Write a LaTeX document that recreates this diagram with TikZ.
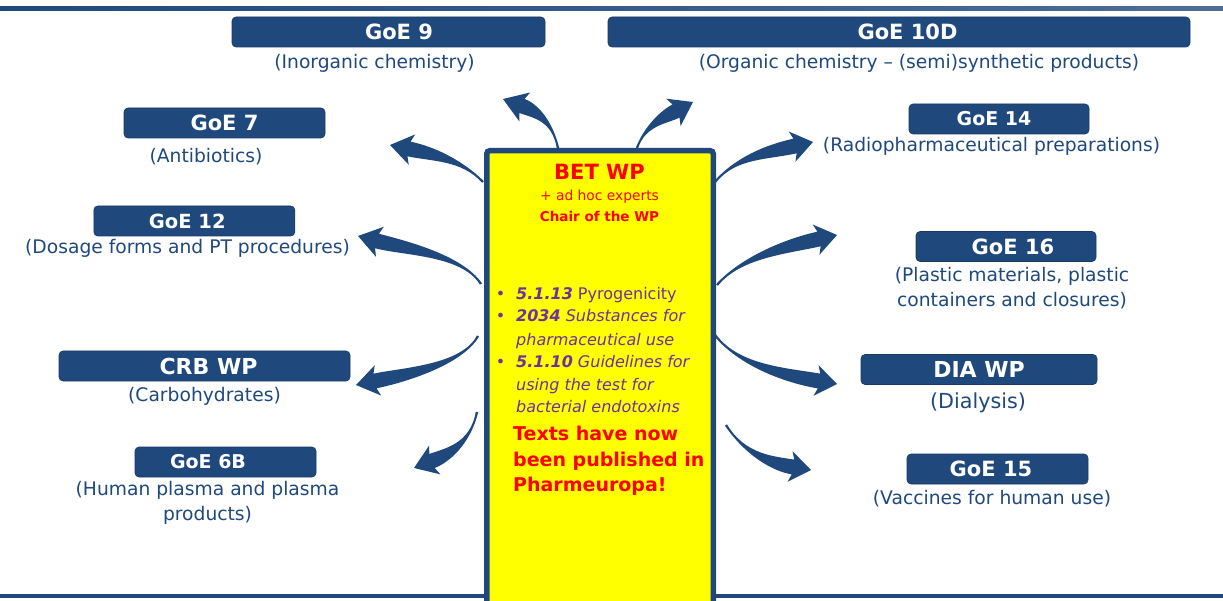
\documentclass[tikz,border=0pt]{standalone}
\usepackage{fontspec}
\setmainfont{DejaVu Sans}
\usetikzlibrary{calc}

\definecolor{navy}{RGB}{31,73,125}
\definecolor{wpred}{RGB}{255,0,0}
\definecolor{wppurple}{RGB}{112,48,160}
\definecolor{wpyellow}{RGB}{255,255,0}

% Curved block arrow that widens from a thin tail to a swept-back head.
% #1 tail, #2 tail control, #3 end of shaft, #4 tip, #5 name prefix, #6 pull behind the head
\newcommand\fatarrow[6]{%
  \coordinate (#5-b) at (#3);
  \coordinate (#5-t) at (#4);
  \coordinate (#5-c) at ($(#5-b)!-#6!(#5-t)$);
  \coordinate (#5-k) at ($(#5-b)!-3pt!(#5-t)$);
  \fill[navy] ($(#1)!1.2pt!90:(#2)$) .. controls (#2) and ($(#5-c)!7.5pt!90:(#5-t)$) .. ($(#5-b)!7.5pt!90:(#5-t)$)
     -- ($(#5-k)!15.5pt!90:(#5-t)$) -- (#5-t) -- ($(#5-k)!15.5pt!-90:(#5-t)$)
     -- ($(#5-b)!7.5pt!-90:(#5-t)$) .. controls ($(#5-c)!7.5pt!-90:(#5-t)$) and (#2) .. ($(#1)!1.2pt!-90:(#2)$) -- cycle;
}
\newcommand\bitem{\llap{•\hspace{11pt}}}

\begin{document}
\begin{tikzpicture}[x=1pt,y=-1pt,
  gbox/.style={fill=navy, draw=navy!80!black, line width=0.6pt, rounded corners=4pt,
    minimum height=30pt, inner sep=0pt, text=white,
    font=\bfseries\fontsize{#1}{#1}\selectfont},
  gbox/.default=20,
  sub/.style={text=navy, inner sep=0pt, align=center,
    font=\fontsize{#1}{25}\selectfont},
  sub/.default=18.7,
  bul/.style={anchor=base west, text=wppurple, inner sep=0pt,
    font=\fontsize{16}{16}\selectfont},
  redline/.style={anchor=base west, text=wpred, inner sep=0pt,
    font=\bfseries\fontsize{19}{19}\selectfont},
  title/.style={anchor=base, text=wpred, inner sep=0pt}]

\useasboundingbox (0,0) rectangle (1223,601);
\clip (0,0) rectangle (1223,601);
\fill[white] (0,0) rectangle (1223,601);

% frame rules
\shade[left color=navy, right color=navy!80!white] (0,7) rectangle (1223,11);
\fill[navy] (0,594) rectangle (1223,598);

% groups of experts, left column
\node[gbox=21, minimum width=313pt] (goe9) at (388.5,32) {\hspace*{21pt}GoE 9};
\node[sub] (goe9s) at (374.5,63) {(Inorganic chemistry)};
\node[gbox=21, minimum width=201pt] (goe7) at (224.5,123) {GoE 7};
\node[sub] (goe7s) at (206,157) {(Antibiotics)};
\node[gbox=19.5, minimum width=201pt] (goe12) at (194.3,221) {GoE 12\hspace*{14pt}};
\node[sub] (goe12s) at (187.5,248) {(Dosage forms and PT procedures)};
\node[gbox=22, minimum width=291pt] (crb) at (204.5,366) {\hspace*{8pt}CRB WP};
\node[sub] (crbs) at (204.5,396.5) {(Carbohydrates)};
\node[gbox=19, minimum width=181pt] (goe6) at (225.5,462) {GoE 6B\hspace*{35pt}};
\node[sub] (goe6s) at (207.5,503) {(Human plasma and plasma\\products)};

% groups of experts, right column
\node[gbox=21, minimum width=582pt] (goe10) at (899,32) {\hspace*{17pt}GoE 10D};
\node[sub] (goe10s) at (919,63) {(Organic chemistry – (semi)synthetic products)};
\node[gbox=19, minimum width=180pt] (goe14) at (999,119) {GoE 14\hspace*{10pt}};
\node[sub] (goe14s) at (991.5,146) {(Radiopharmaceutical preparations)};
\node[gbox=21, minimum width=180pt] (goe16) at (1006,246.5) {\hspace*{14pt}GoE 16};
\node[sub] (goe16s) at (1012,288.5) {(Plastic materials, plastic\\containers and closures)};
\node[gbox=22, minimum width=236pt] (dia) at (979,369.5) {DIA WP};
\node[sub=20.7] (dias) at (978,403) {(Dialysis)};
\node[gbox=21, minimum width=181pt] (goe15) at (997.5,469) {GoE 15\hspace*{13pt}};
\node[sub] (goe15s) at (992,499) {(Vaccines for human use)};

% arrow tails on the central box and tips towards the groups
\coordinate (tA) at (558,148); \coordinate (pA) at (503,99);
\coordinate (tB) at (483,182); \coordinate (pB) at (390,145);
\coordinate (tC) at (481,284); \coordinate (pC) at (358,236);
\coordinate (tD) at (478,336); \coordinate (pD) at (356,385);
\coordinate (tE) at (477,412); \coordinate (pE) at (414,468);
\coordinate (tF) at (637,148); \coordinate (pF) at (693,102);
\coordinate (tG) at (715,182); \coordinate (pG) at (813,142);
\coordinate (tH) at (717,285); \coordinate (pH) at (837,235);
\coordinate (tI) at (715,335); \coordinate (pI) at (837,384);
\coordinate (tJ) at (726,425); \coordinate (pJ) at (811,470);

\fatarrow{tA}{552,120}{522,106}{pA}{aA}{14pt}
\fatarrow{tB}{462,160}{409,149}{pB}{aB}{25pt}
\fatarrow{tC}{462,255}{377,241}{pC}{aC}{30pt}
\fatarrow{tD}{462,365}{375,381}{pD}{aD}{30pt}
\fatarrow{tE}{470,445}{432,461}{pE}{aE}{15pt}
\fatarrow{tF}{645,125}{676,111}{pF}{aF}{12pt}
\fatarrow{tG}{735,158}{795,146}{pG}{aG}{30pt}
\fatarrow{tH}{740,258}{819,239}{pH}{aH}{35pt}
\fatarrow{tI}{738,365}{819,381}{pI}{aI}{35pt}
\fatarrow{tJ}{745,455}{793,467}{pJ}{aJ}{20pt}

% central working party box
\draw[line width=5.5pt, draw=navy, fill=wpyellow, rounded corners=3pt]
  (486.75,150.75) rectangle (713.25,640);

\node[title, font=\bfseries\fontsize{21}{21}\selectfont] (bet) at (599.5,180) {BET WP};
\node[title, font=\fontsize{13.8}{14}\selectfont] (adhoc) at (599.5,201) {+ ad hoc experts};
\node[title, font=\bfseries\fontsize{13.5}{14}\selectfont] (chair) at (599.5,222) {Chair of the WP};

\node[bul] (l1) at (516,300) {\bitem\textbf{\textit{5.1.13}} Pyrogenicity};
\node[bul] (l2) at (516,322) {\bitem\textbf{\textit{2034}} \textit{Substances for}};
\node[bul] (l3) at (516,345) {\textit{pharmaceutical use}};
\node[bul] (l4) at (516,367) {\bitem\textbf{\textit{5.1.10}} \textit{Guidelines for}};
\node[bul] (l5) at (516,390) {\textit{using the test for}};
\node[bul] (l6) at (516,412) {\textit{bacterial endotoxins}};

\node[redline] (r1) at (513,440) {Texts have now};
\node[redline] (r2) at (513,466) {been published in};
\node[redline] (r3) at (513,491) {Pharmeuropa!};
\end{tikzpicture}
\end{document}
